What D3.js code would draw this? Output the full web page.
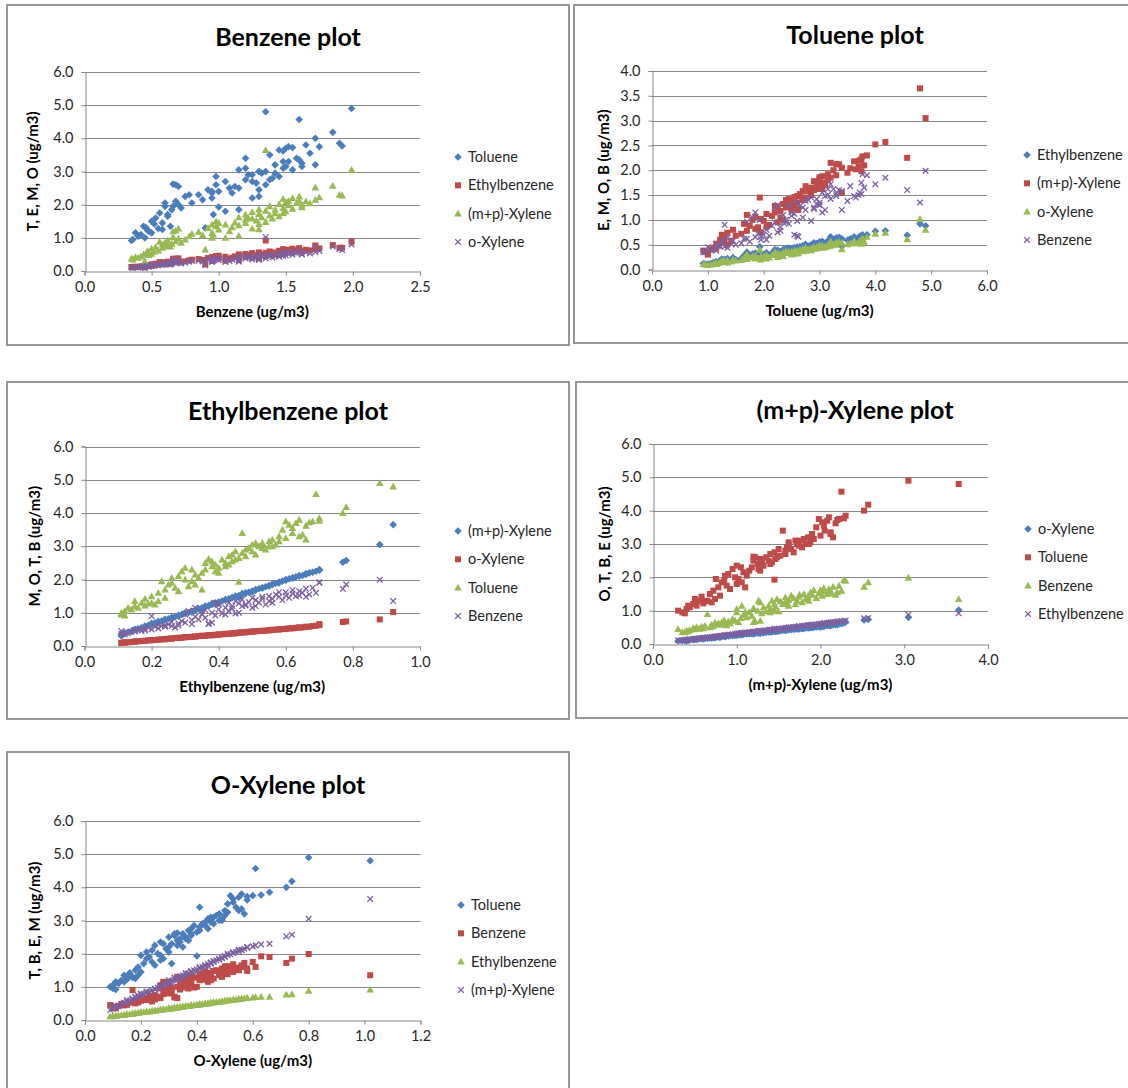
<!DOCTYPE html>
<html>
<head>
<meta charset="utf-8">
<script src="https://cdn.jsdelivr.net/npm/d3@7"></script>
<style>
  body { margin: 0; background: #fff; }
  svg { display: block; font-family: Lato, "Open Sans", sans-serif; }
</style>
</head>
<body>
<svg id="chart" width="1128" height="1088"></svg>
<script>
// one value per air sample, same sample index in every array
var benzene = [0.36, 0.45, 0.40, 0.35, 0.42, 0.48, 0.44, 0.50, 0.46, 0.52,
  0.55, 0.90, 0.50, 0.58, 0.53, 0.60, 0.62, 0.58, 0.65, 0.72,
  0.56, 0.68, 0.62, 0.75, 0.70, 1.05, 0.78, 0.66, 0.88, 0.80,
  0.95, 0.96, 0.85, 0.68, 1.00, 0.70, 0.92, 1.10, 1.25, 0.98,
  1.15, 1.05, 1.30, 1.20, 1.35, 0.98, 1.28, 1.20, 1.40, 1.22,
  1.32, 1.45, 1.15, 1.38, 1.30, 1.48, 1.25, 1.50, 1.35, 1.42,
  1.55, 1.48, 1.38, 1.52, 1.62, 1.45, 1.58, 1.50, 1.65, 1.60,
  1.72, 1.55, 1.75, 1.60, 1.92, 1.90, 1.72, 1.85, 1.99, 1.35,
  0.38, 0.47, 0.64, 0.60, 0.95, 1.15, 1.08, 1.30, 0.95, 1.12,
  1.25, 1.20, 1.42, 1.30, 1.62, 1.68, 1.52, 1.48, 1.00, 0.66];
var toluene = [0.95, 1.00, 1.05, 0.92, 1.10, 1.20, 1.35, 1.15, 1.30, 1.42,
  1.28, 1.30, 1.50, 1.25, 1.60, 1.95, 1.70, 1.45, 1.85, 1.90,
  1.75, 2.10, 1.65, 2.25, 2.00, 1.80, 2.30, 1.95, 2.15, 2.05,
  2.20, 1.70, 2.30, 2.60, 2.40, 2.55, 2.45, 2.35, 2.20, 2.60,
  2.50, 2.70, 2.45, 2.75, 2.60, 2.85, 2.65, 3.40, 2.80, 2.90,
  2.95, 2.85, 3.05, 2.75, 3.00, 3.10, 2.90, 3.15, 3.00, 3.20,
  3.05, 3.30, 3.50, 3.75, 3.25, 3.65, 3.40, 3.70, 3.80, 3.35,
  3.20, 3.72, 3.75, 4.57, 3.77, 3.85, 4.00, 4.18, 4.90, 4.80,
  1.15, 1.22, 1.35, 2.05, 2.35, 1.85, 2.50, 2.25, 2.40, 2.55,
  2.70, 3.10, 2.95, 3.00, 3.15, 3.55, 3.30, 3.62, 1.93, 2.62];
var ethylbenzene = [0.11, 0.11, 0.12, 0.12, 0.14, 0.15, 0.15, 0.16, 0.17, 0.18,
  0.19, 0.20, 0.20, 0.21, 0.22, 0.23, 0.24, 0.24, 0.25, 0.26,
  0.27, 0.28, 0.28, 0.29, 0.30, 0.31, 0.32, 0.32, 0.33, 0.34,
  0.35, 0.35, 0.36, 0.37, 0.38, 0.38, 0.39, 0.40, 0.40, 0.41,
  0.42, 0.43, 0.43, 0.44, 0.45, 0.45, 0.46, 0.47, 0.47, 0.48,
  0.49, 0.50, 0.50, 0.51, 0.52, 0.53, 0.54, 0.55, 0.55, 0.56,
  0.57, 0.58, 0.59, 0.60, 0.60, 0.61, 0.62, 0.63, 0.64, 0.65,
  0.66, 0.67, 0.68, 0.69, 0.70, 0.70, 0.77, 0.78, 0.88, 0.92,
  0.13, 0.18, 0.22, 0.26, 0.30, 0.33, 0.36, 0.39, 0.42, 0.44,
  0.48, 0.51, 0.53, 0.56, 0.58, 0.62, 0.64, 0.66, 0.46, 0.37];
var mpXylene = [0.35, 0.30, 0.40, 0.38, 0.44, 0.48, 0.50, 0.52, 0.55, 0.58,
  0.62, 0.65, 0.68, 0.70, 0.72, 0.75, 0.78, 0.80, 0.82, 0.85,
  0.88, 0.90, 0.92, 0.95, 0.98, 1.00, 1.05, 1.02, 1.08, 1.12,
  1.15, 1.10, 1.18, 1.22, 1.25, 1.28, 1.30, 1.32, 1.28, 1.35,
  1.38, 1.40, 1.42, 1.45, 1.48, 1.50, 1.52, 1.55, 1.58, 1.60,
  1.62, 1.65, 1.62, 1.68, 1.72, 1.75, 1.78, 1.80, 1.82, 1.85,
  1.88, 1.90, 1.95, 1.98, 2.00, 2.02, 2.05, 2.08, 2.10, 2.12,
  2.15, 2.20, 2.22, 2.25, 2.28, 2.30, 2.52, 2.57, 3.05, 3.65,
  0.42, 0.60, 0.74, 0.86, 1.00, 1.06, 1.20, 1.26, 1.40, 1.46,
  1.58, 1.70, 1.74, 1.86, 1.92, 2.04, 2.12, 2.18, 1.45, 1.20];
var oXylene = [0.10, 0.09, 0.10, 0.11, 0.12, 0.13, 0.14, 0.14, 0.15, 0.16,
  0.17, 0.17, 0.18, 0.18, 0.19, 0.20, 0.21, 0.20, 0.22, 0.23,
  0.24, 0.24, 0.25, 0.25, 0.26, 0.27, 0.28, 0.27, 0.29, 0.30,
  0.30, 0.31, 0.31, 0.32, 0.33, 0.32, 0.34, 0.34, 0.35, 0.35,
  0.36, 0.37, 0.36, 0.38, 0.38, 0.39, 0.40, 0.41, 0.41, 0.42,
  0.43, 0.43, 0.44, 0.44, 0.45, 0.46, 0.46, 0.47, 0.48, 0.48,
  0.49, 0.50, 0.51, 0.52, 0.51, 0.53, 0.54, 0.55, 0.56, 0.56,
  0.57, 0.58, 0.60, 0.61, 0.63, 0.66, 0.72, 0.74, 0.80, 1.02,
  0.11, 0.15, 0.19, 0.22, 0.27, 0.28, 0.30, 0.33, 0.37, 0.38,
  0.41, 0.45, 0.45, 0.49, 0.50, 0.53, 0.55, 0.58, 0.40, 0.33];

var compoundNames = {B: "Benzene", T: "Toluene", E: "Ethylbenzene", M: "(m+p)-Xylene", O: "o-Xylene"};
var compoundValues = {B: benzene, T: toluene, E: ethylbenzene, M: mpXylene, O: oXylene};

var panelTitles = ["Benzene plot", "Toluene plot", "Ethylbenzene plot", "(m+p)-Xylene plot", "O-Xylene plot"];
var xTitles = ["Benzene (ug/m3)", "Toluene (ug/m3)", "Ethylbenzene (ug/m3)", "(m+p)-Xylene (ug/m3)", "O-Xylene (ug/m3)"];
var yTitles = ["T, E, M, O (ug/m3)", "E, M, O, B (ug/m3)", "M, O, T, B (ug/m3)", "O, T, B, E (ug/m3)", "T, B, E, M (ug/m3)"];
var xKeys = ["B", "T", "E", "M", "O"];
var seriesKeys = [["T", "E", "M", "O"], ["E", "M", "O", "B"], ["M", "O", "T", "B"], ["O", "T", "B", "E"], ["T", "B", "E", "M"]];
var xTicks = [[0, 0.5, 1, 1.5, 2, 2.5], [0, 1, 2, 3, 4, 5, 6], [0, 0.2, 0.4, 0.6, 0.8, 1], [0, 1, 2, 3, 4], [0, 0.2, 0.4, 0.6, 0.8, 1, 1.2]];
var yTicks = [[0, 1, 2, 3, 4, 5, 6], [0, 0.5, 1, 1.5, 2, 2.5, 3, 3.5, 4], [0, 1, 2, 3, 4, 5, 6], [0, 1, 2, 3, 4, 5, 6], [0, 1, 2, 3, 4, 5, 6]];

// page layout of each chart box (pixels)
var layout = [
  {box: [7, 5, 569, 345], plot: [84.5, 72, 420, 271], title: [288, 37], yt: 33, legend: [458, 157]},
  {box: [574, 5, 1140, 343], plot: [652, 71, 987, 269.5], title: [855, 35], yt: 604, legend: [1027, 155]},
  {box: [7, 382, 569, 719], plot: [84.5, 446.5, 420, 646], title: [288, 411], yt: 35, legend: [458, 531]},
  {box: [576, 382, 1140, 718], plot: [653, 444, 988, 644], title: [855, 410], yt: 605, legend: [1028, 529]},
  {box: [7, 752, 569, 1100], plot: [85, 821, 420.5, 1020], title: [288, 785], yt: 35, legend: [461, 905]}
];

var colors = ["#4a7ebb", "#be4b48", "#98b954", "#7d60a0"];
var gridColor = "#868686";

function marker(sel, k) {
  if (k === 0) sel.append("path").attr("d", "M0,-3.8L3.8,0L0,3.8L-3.8,0Z").attr("fill", colors[0]);
  else if (k === 1) sel.append("rect").attr("x", -3).attr("y", -3).attr("width", 6).attr("height", 6).attr("fill", colors[1]);
  else if (k === 2) sel.append("path").attr("d", "M0,-3.8L3.8,3L-3.8,3Z").attr("fill", colors[2]);
  else sel.append("path").attr("d", "M-2.8,-2.8L2.8,2.8M-2.8,2.8L2.8,-2.8").attr("stroke", colors[3]).attr("stroke-width", 1.3).attr("fill", "none");
}

var svg = d3.select("#chart");

layout.forEach(function(L, p) {
  var g = svg.append("g");
  g.append("rect")
    .attr("x", L.box[0]).attr("y", L.box[1])
    .attr("width", L.box[2] - L.box[0]).attr("height", L.box[3] - L.box[1])
    .attr("fill", "#fff").attr("stroke", "#8c8c8c").attr("stroke-width", 1.8);

  var xd = xTicks[p], yd = yTicks[p];
  var x = d3.scaleLinear().domain([xd[0], xd[xd.length - 1]]).range([L.plot[0], L.plot[2]]);
  var y = d3.scaleLinear().domain([yd[0], yd[yd.length - 1]]).range([L.plot[3], L.plot[1]]);

  // gridlines
  g.append("g").selectAll("line").data(yd.slice(1)).join("line")
    .attr("x1", L.plot[0]).attr("x2", L.plot[2])
    .attr("y1", function(d) { return Math.round(y(d)) + 0.5; })
    .attr("y2", function(d) { return Math.round(y(d)) + 0.5; })
    .attr("stroke", gridColor).attr("stroke-width", 1);

  var yAxis = g.append("g").attr("transform", "translate(" + (Math.round(L.plot[0]) + 0.5) + ",0)")
    .call(d3.axisLeft(y).tickValues(yd).tickFormat(d3.format(".1f")).tickSize(4).tickPadding(8));
  var xAxis = g.append("g").attr("transform", "translate(0," + (Math.round(L.plot[3]) + 0.5) + ")")
    .call(d3.axisBottom(x).tickValues(xd).tickFormat(d3.format(".1f")).tickSize(4).tickPadding(6));
  [xAxis, yAxis].forEach(function(a) {
    a.select(".domain").attr("stroke", gridColor);
    a.selectAll(".tick line").attr("stroke", gridColor);
    a.selectAll("text").attr("font-size", 14.5).attr("fill", "#262626").attr("font-family", "Lato, sans-serif");
  });

  // titles
  g.append("text").attr("x", L.title[0]).attr("y", L.title[1]).attr("dy", "0.35em")
    .attr("text-anchor", "middle").attr("font-size", 25).attr("font-weight", "bold").attr("fill", "#000")
    .text(panelTitles[p]);
  g.append("text").attr("x", (L.plot[0] + L.plot[2]) / 2).attr("y", L.plot[3] + 41).attr("dy", "0.35em")
    .attr("text-anchor", "middle").attr("font-size", 15).attr("font-weight", "bold").attr("fill", "#000")
    .text(xTitles[p]);
  g.append("text")
    .attr("transform", "translate(" + L.yt + "," + (L.plot[1] + L.plot[3]) / 2 + ") rotate(-90)")
    .attr("dy", "0.35em").attr("text-anchor", "middle").attr("font-size", 15).attr("font-weight", "bold").attr("fill", "#000")
    .text(yTitles[p]);

  // points, series drawn in order so later ones sit on top
  var xs = compoundValues[xKeys[p]];
  seriesKeys[p].forEach(function(key, k) {
    var ys = compoundValues[key];
    g.append("g").selectAll("g").data(d3.range(xs.length)).join("g")
      .attr("transform", function(i) { return "translate(" + x(xs[i]) + "," + y(ys[i]) + ")"; })
      .each(function() { marker(d3.select(this), k); });

    var row = g.append("g").attr("transform", "translate(" + L.legend[0] + "," + (L.legend[1] + k * 28.3) + ")");
    marker(row.append("g"), k);
    row.append("text").attr("x", 10).attr("dy", "0.35em").attr("font-size", 14.5).attr("fill", "#262626")
      .text(compoundNames[key]);
  });
});
</script>
</body>
</html>
